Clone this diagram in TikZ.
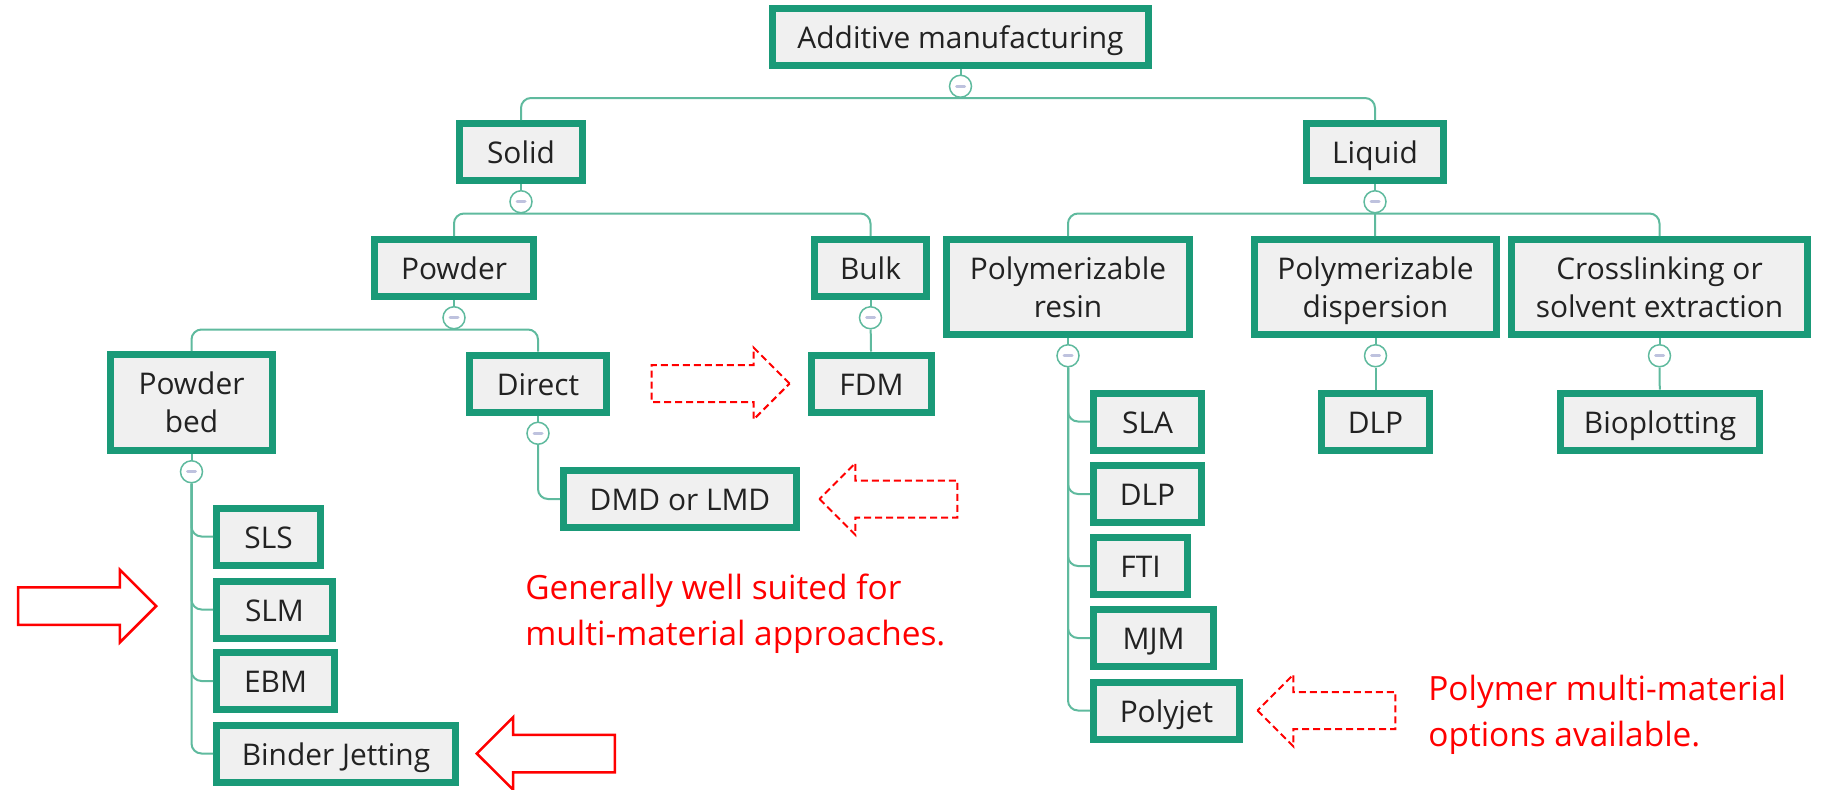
\documentclass[tikz,border=0pt]{standalone}
\usepackage{fontspec}
\setmainfont{Open Sans}
\usetikzlibrary{positioning,shapes.arrows}
\definecolor{boxgreen}{RGB}{26,154,120}
\definecolor{boxfill}{RGB}{240,240,240}
\definecolor{linegreen}{RGB}{95,186,158}
\definecolor{knobdash}{RGB}{190,194,222}
\definecolor{textgray}{RGB}{34,34,34}
\begin{document}
\begin{tikzpicture}[
  boxbase/.style={draw=boxgreen, fill=boxfill, line width=0.14cm, rectangle, inner sep=0.1cm, text=textgray, font=\fontsize{17}{21.6}\selectfont},
  box/.style={boxbase, minimum height=1.14cm, text height=0.46cm, text depth=0pt},
  tallbox/.style={boxbase, minimum height=1.9cm, align=center, text depth=0pt},
  knob/.style={circle, draw=linegreen, fill=white, line width=0.03cm, minimum size=0.44cm, inner sep=0pt,
    path picture={\draw[knobdash, line width=0.06cm, line cap=round] ([xshift=-0.08cm]path picture bounding box.center) -- ([xshift=0.08cm]path picture bounding box.center);}},
  tree/.style={draw=linegreen, line width=0.04cm, rounded corners=0.2cm},
  redarrow/.style={single arrow, draw=red, line width=0.05cm, minimum height=2.76cm, minimum width=1.4cm, single arrow head extend=0.35cm, inner xsep=0pt, inner ysep=0.35cm},
  dasharrow/.style={redarrow, line width=0.04cm, dash pattern=on 0.14cm off 0.08cm},
  note/.style={text=red, align=left, inner sep=0pt, anchor=west, font=\fontsize{19}{26}\selectfont}
]
\useasboundingbox (0,0) rectangle (36.54,-15.78);

\node[box, minimum width=7.52cm] (root) at (19.21,-0.73) {Additive manufacturing};
\node[box, minimum width=2.46cm] (solid) at (10.42,-3.04) {Solid};
\node[box, minimum width=2.74cm] (liquid) at (27.50,-3.04) {Liquid};

\node[box, minimum width=3.18cm] (powder) at (9.08,-5.36) {Powder};
\node[box, minimum width=2.24cm] (bulk) at (17.41,-5.36) {Bulk};
\node[tallbox, minimum width=4.86cm] (resin) at (21.36,-5.74) {Polymerizable\\resin};
\node[tallbox, minimum width=4.84cm] (disp) at (27.51,-5.74) {Polymerizable\\dispersion};
\node[tallbox, minimum width=5.92cm] (cross) at (33.19,-5.74) {Crosslinking or\\solvent extraction};

\node[tallbox, minimum width=3.24cm, minimum height=1.92cm] (bed) at (3.83,-8.05) {Powder\\bed};
\node[box, minimum width=2.74cm] (direct) at (10.76,-7.67) {Direct};
\node[box, minimum width=2.40cm] (fdm) at (17.43,-7.67) {FDM};
\node[box, minimum width=4.66cm] (dmd) at (13.60,-9.98) {DMD or LMD};

\node[box, minimum width=2.08cm] (sls) at (5.37,-10.73) {SLS};
\node[box, minimum width=2.32cm] (slm) at (5.49,-12.19) {SLM};
\node[box, minimum width=2.36cm] (ebm) at (5.51,-13.62) {EBM};
\node[box, minimum width=4.78cm] (binder) at (6.72,-15.07) {Binder Jetting};

\node[box, minimum width=2.16cm] (sla) at (22.95,-8.43) {SLA};
\node[box, minimum width=2.16cm] (dlpa) at (22.95,-9.88) {DLP};
\node[box, minimum width=1.88cm] (fti) at (22.81,-11.32) {FTI};
\node[box, minimum width=2.40cm] (mjm) at (23.07,-12.76) {MJM};
\node[box, minimum width=2.92cm] (polyjet) at (23.33,-14.21) {Polyjet};
\node[box, minimum width=2.16cm] (dlpb) at (27.51,-8.43) {DLP};
\node[box, minimum width=3.98cm] (bio) at (33.20,-8.43) {Bioplotting};

\node[knob, below=0.12cm of root] (kroot) {};
\node[knob, below=0.12cm of solid] (ksolid) {};
\node[knob, below=0.12cm of liquid] (kliquid) {};
\node[knob, below=0.12cm of powder] (kpowder) {};
\node[knob, below=0.12cm of bulk] (kbulk) {};
\node[knob, below=0.12cm of resin] (kresin) {};
\node[knob, below=0.12cm of disp] (kdisp) {};
\node[knob, below=0.12cm of cross] (kcross) {};
\node[knob, below=0.12cm of bed] (kbed) {};
\node[knob, below=0.12cm of direct] (kdirect) {};

\draw[tree] (root) -- (kroot);
\draw[tree] (solid.north) |- (kroot.south) -| (liquid.north);
\draw[tree] (solid) -- (ksolid);
\draw[tree] (powder.north) |- (ksolid.south) -| (bulk.north);
\draw[tree] (liquid) -- (kliquid);
\draw[tree] (resin.north) |- (kliquid.south) -| (cross.north);
\draw[tree] (kliquid) -- (disp);
\draw[tree] (powder) -- (kpowder);
\draw[tree] (bed.north) |- (kpowder.south) -| (direct.north);
\draw[tree] (bulk) -- (kbulk);
\draw[tree] (kbulk) -- (fdm);
\draw[tree] (bed) -- (kbed);
\foreach \c in {sls,slm,ebm,binder}
  \draw[tree] (kbed.south) |- (\c.west);
\draw[tree] (direct) -- (kdirect);
\draw[tree] (kdirect.south) |- (dmd.west);
\draw[tree] (resin) -- (kresin);
\foreach \c in {sla,dlpa,fti,mjm,polyjet}
  \draw[tree] (kresin.south) |- (\c.west);
\draw[tree] (disp) -- (kdisp);
\draw[tree] (kdisp) -- (dlpb);
\draw[tree] (cross) -- (kcross);
\draw[tree] (kcross) -- (bio);

\node[redarrow, anchor=tip] (bedarrow) at (3.16,-12.12) {};
\node[redarrow, shape border rotate=180, right=0.32cm of binder] (binderarrow) {};
\node[dasharrow, left=0.34cm of fdm] (fdmarrow) {};
\node[dasharrow, shape border rotate=180, right=0.36cm of dmd] (dmdarrow) {};
\node[dasharrow, shape border rotate=180, right=0.26cm of polyjet] (polyjetarrow) {};

\node[note] (metalnote) at (10.50,-12.27) {Generally well suited for\\multi-material approaches.};
\node[note] (polymernote) at (28.56,-14.30) {Polymer multi-material\\options available.};
\end{tikzpicture}
\end{document}
